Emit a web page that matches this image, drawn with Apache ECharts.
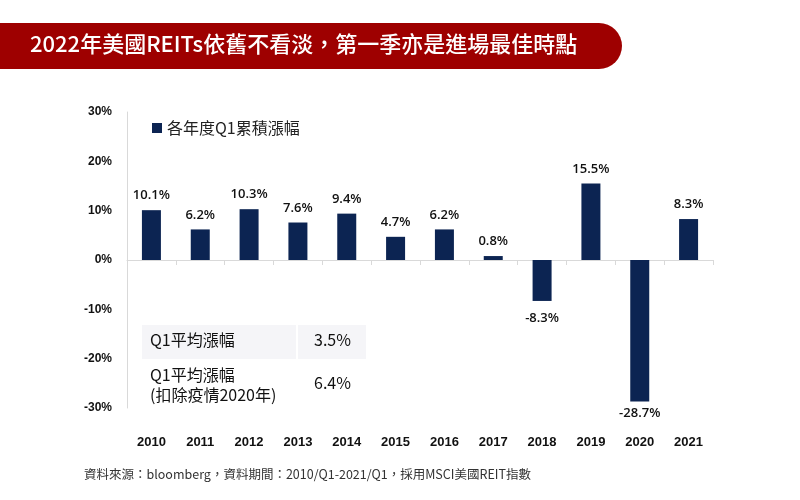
<!DOCTYPE html>
<html><head><meta charset="utf-8">
<script src="https://cdn.jsdelivr.net/npm/echarts@6/dist/echarts.min.js"></script>
<style>html,body{margin:0;padding:0;background:#fff}#c{width:800px;height:500px}</style>
</head><body><div id="c"></div>
<script>
const years = ['2010','2011','2012','2013','2014','2015','2016','2017','2018','2019','2020','2021'];
const q1Returns = [10.1, 6.2, 10.3, 7.6, 9.4, 4.7, 6.2, 0.8, -8.3, 15.5, -28.7, 8.3];
const yTicks = [-30, 30, 10];
const seriesName = '各年度Q1累積漲幅';
const titleText = '2022年美國REITs依舊不看淡，第一季亦是進場最佳時點';
const tableRows = [['Q1平均漲幅', '3.5%'], ['Q1平均漲幅\n(扣除疫情2020年)', '6.4%']];
const footerText = '資料來源：bloomberg，資料期間：2010/Q1-2021/Q1，採用MSCI美國REIT指數';

const CJK = '"Noto Sans CJK TC", "Noto Sans", sans-serif';
const chart = echarts.init(document.getElementById('c'));
const barData = q1Returns.map(v => ({
  value: v,
  label: v < 0
    ? { position: 'bottom', distance: v > -20 ? 11 : 5 }
    : { position: 'top', distance: 8 }
}));
chart.setOption({
  animation: false,
  grid: { left: 127, right: 87, top: 112, bottom: 92 },
  legend: {
    left: 147, top: 115, icon: 'rect', itemWidth: 10, itemHeight: 10, itemGap: 6,
    textStyle: { fontFamily: CJK, fontSize: 16, color: '#222' },
    data: [seriesName]
  },
  xAxis: [{
    type: 'category', data: years, position: 'bottom',
    axisLine: { onZero: true, lineStyle: { color: '#d9d9d9' } },
    axisTick: { show: true, length: 5, lineStyle: { color: '#d9d9d9' } },
    axisLabel: { show: false }
  }, {
    type: 'category', data: years, position: 'bottom',
    axisLine: { show: false, onZero: false }, axisTick: { show: false },
    axisLabel: { margin: 28, fontFamily: '"Liberation Sans", Arial, sans-serif', fontWeight: 'bold', fontSize: 13, color: '#111' }
  }],
  yAxis: {
    type: 'value', min: yTicks[0], max: yTicks[1], interval: yTicks[2],
    axisLine: { show: true, lineStyle: { color: '#d9d9d9' } },
    axisTick: { show: false }, splitLine: { show: false },
    axisLabel: { formatter: '{value}%', margin: 15, fontFamily: '"Liberation Sans", Arial, sans-serif', fontWeight: 'bold', fontSize: 12, color: '#111' }
  },
  series: [{
    name: seriesName, type: 'bar', data: barData, barWidth: 19, xAxisIndex: 0,
    itemStyle: { color: '#0c2452' },
    label: {
      show: true, formatter: p => p.value + '%',
      fontFamily: '"Open Sans", sans-serif', fontSize: 13, fontWeight: 600, color: '#111'
    }
  }],
  graphic: [
    { type: 'rect', left: 0, top: 23, shape: { width: 622, height: 46, r: [0, 23, 23, 0] }, style: { fill: '#9e0000' } },
    { type: 'text', left: 30, top: 33, style: { text: titleText, fill: '#fff', font: '500 22px ' + CJK } },
    { type: 'rect', left: 142, top: 325, shape: { width: 154, height: 34 }, style: { fill: '#f5f5f8' } },
    { type: 'rect', left: 298, top: 325, shape: { width: 68, height: 34 }, style: { fill: '#f5f5f8' } },
    { type: 'text', left: 150, top: 332, style: { text: tableRows[0][0], fill: '#111', font: '16px ' + CJK } },
    { type: 'text', left: 314, top: 332, style: { text: tableRows[0][1], fill: '#111', font: '16px ' + CJK } },
    { type: 'text', left: 150, top: 365, style: { text: tableRows[1][0], fill: '#111', font: '16px ' + CJK, lineHeight: 20 } },
    { type: 'text', left: 314, top: 375, style: { text: tableRows[1][1], fill: '#111', font: '16px ' + CJK } },
    { type: 'text', left: 84, top: 468, style: { text: footerText, fill: '#333', font: '12.5px ' + CJK } }
  ]
});
</script></body></html>
